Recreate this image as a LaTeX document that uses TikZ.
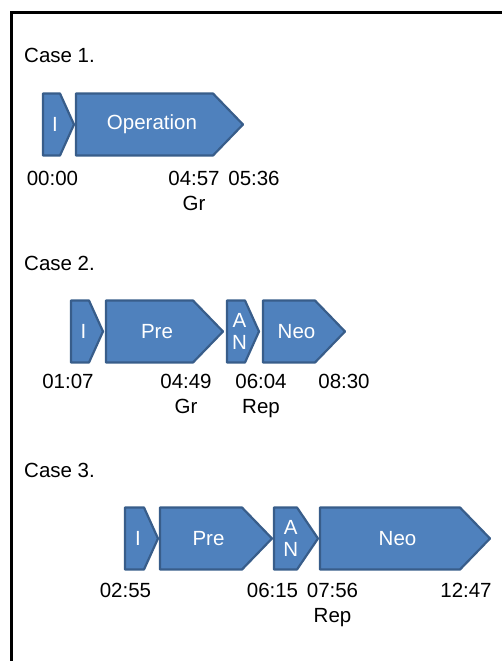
\documentclass[tikz,border=0pt]{standalone}
\usepackage{fontspec}
\setmainfont{Liberation Sans}
\usetikzlibrary{positioning}
\definecolor{PhaseBlue}{RGB}{79,129,189}
\definecolor{PhaseEdge}{RGB}{56,93,138}
\tikzset{
  phasebox/.style={draw=PhaseEdge,fill=PhaseBlue,line width=2.2pt,line join=round},
  phasetext/.style={text=white,inner sep=0pt,align=center,
    font=\fontsize{20.5}{22}\selectfont},
  caselabel/.style={anchor=base west,inner sep=0pt,font=\fontsize{20.5}{24}\selectfont},
  timelabel/.style={anchor=base,inner sep=0pt,text height=15pt,text depth=4pt,
    font=\fontsize{20.5}{24}\selectfont},
  eventlabel/.style={inner sep=0pt,text height=15pt,text depth=4pt,
    font=\fontsize{20.5}{24}\selectfont}
}
% #1 name, #2 left, #3 tip, #4 middle y, #5 point depth, #6 text
\newcommand{\phase}[6]{%
  \draw[phasebox] (#2,#4-31) -- (#3-#5,#4-31) -- (#3,#4) -- (#3-#5,#4+31)
    -- (#2,#4+31) -- cycle;
  \node[phasetext] (#1) at ({(#2+#3-#5/2)/2},#4) {#6};
}

\begin{document}
\begin{tikzpicture}[x=1pt,y=-1pt,node distance=6pt]
  \useasboundingbox (0,0) rectangle (502,661);
  \draw[line width=3pt] (11,661) -- (11,12.5) -- (502,12.5);

  % Case 1
  \node[caselabel] (case1) at (24,63) {Case 1.};
  \phase{c1i}{43}{74}{124.5}{14}{I}
  \phase{c1op}{76}{243}{124.5}{30}{Operation}
  \node[timelabel] (t1a) at (52.5,185) {00:00};
  \node[timelabel] (t1b) at (194,185) {04:57};
  \node[timelabel] (t1c) at (254,185) {05:36};
  \node[eventlabel,below=of t1b] (e1b) {Gr};

  % Case 2
  \node[caselabel] (case2) at (24,270) {Case 2.};
  \phase{c2i}{71}{103}{331.5}{14}{I}
  \phase{c2pre}{106}{223}{331.5}{30}{Pre}
  \phase{c2an}{227}{259}{331.5}{14}{A\\N}
  \phase{c2neo}{263}{345}{331.5}{30}{Neo}
  \node[timelabel] (t2a) at (68,388) {01:07};
  \node[timelabel] (t2b) at (186,388) {04:49};
  \node[timelabel] (t2c) at (261,388) {06:04};
  \node[timelabel] (t2d) at (344,388) {08:30};
  \node[eventlabel,below=of t2b] (e2b) {Gr};
  \node[eventlabel,below=of t2c] (e2c) {Rep};

  % Case 3
  \node[caselabel] (case3) at (24,477) {Case 3.};
  \phase{c3i}{125}{158}{538.5}{14}{I}
  \phase{c3pre}{160}{272}{538.5}{30}{Pre}
  \phase{c3an}{274}{318}{538.5}{21}{A\\N}
  \phase{c3neo}{320}{490}{538.5}{30}{Neo}
  \node[timelabel] (t3a) at (125.5,597) {02:55};
  \node[timelabel] (t3b) at (272.5,597) {06:15};
  \node[timelabel] (t3c) at (332.5,597) {07:56};
  \node[timelabel] (t3d) at (466,597) {12:47};
  \node[eventlabel,below=of t3c] (e3c) {Rep};
\end{tikzpicture}
\end{document}
